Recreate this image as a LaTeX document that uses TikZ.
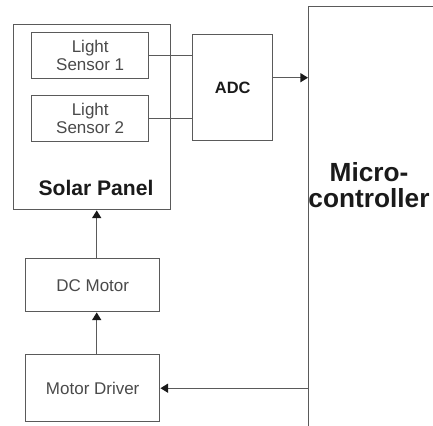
\documentclass[tikz,border=0pt]{standalone}
\usepackage{fontspec}
\setmainfont{Liberation Sans}
\usepackage{xcolor}
\definecolor{LineGray}{HTML}{5A5A5A}
\definecolor{TextGray}{HTML}{4A4A4A}
\definecolor{NearBlack}{HTML}{1A1A1A}
\usepackage{tikz}
\usetikzlibrary{positioning,calc,arrows.meta}
\tikzset{
  blk/.style={draw=LineGray,line width=1.2pt,fill=white,anchor=north west,
    align=center,font=\fontsize{14.5}{15.5}\selectfont,text=TextGray},
  tg/.style={font=\bfseries\fontsize{18}{19}\selectfont,text=NearBlack,align=center},
  wire/.style={draw=LineGray,line width=1.2pt},
  flow/.style={-{Triangle[length=2.3mm,width=2.7mm,color=NearBlack]},draw=LineGray,
    line width=1.2pt},
}

\begin{document}
\begin{tikzpicture}[x=0.03cm,y=0.03cm]
\clip (0,0) rectangle (433,425);
% solar panel with its sensors
\node[blk,minimum width=4.71cm,minimum height=5.55cm] (sp) at (13,401) {};
\node[tg] (splbl) at (96,237) {Solar Panel};
\node[blk,minimum width=3.51cm,minimum height=1.38cm] (ls1) at (31,393) {Light\\Sensor 1};
\node[blk,minimum width=3.51cm,minimum height=1.38cm] (ls2) at (31,330) {Light\\Sensor 2};

% converter and controller
\node[blk,minimum width=2.4cm,minimum height=3.18cm,
  font=\bfseries\fontsize{14}{15}\selectfont,text=NearBlack] (adc) at (192,391) {ADC};
\node[blk,minimum width=5cm,minimum height=14cm] (mcu) at (308,419) {};
\node[tg,font=\bfseries\fontsize{22.4}{22.5}\selectfont] (mcutxt) at (369,240)
  {Micro-\\controller};

% drive chain
\node[blk,minimum width=4.02cm,minimum height=1.59cm] (dc) at (25,167) {DC Motor};
\node[blk,minimum width=4.02cm,minimum height=2.01cm] (md) at (25,71) {Motor Driver};

% connectors
\draw[wire] (ls1.east) -- (ls1.east -| adc.west);
\draw[wire] (ls2.east) -- (ls2.east -| adc.west);
\draw[flow] ($(adc.east)+(0,10)$) coordinate (adcout) -- (adcout -| mcu.west);
\draw[flow] (mcu.west |- md.east) -- (md.east);
\draw[flow] ([xshift=0.12cm]md.north) -- ([xshift=0.12cm]dc.south);
\draw[flow] ([xshift=0.12cm]dc.north) -- ([xshift=0.12cm]dc.north |- sp.south);
\end{tikzpicture}
\end{document}
